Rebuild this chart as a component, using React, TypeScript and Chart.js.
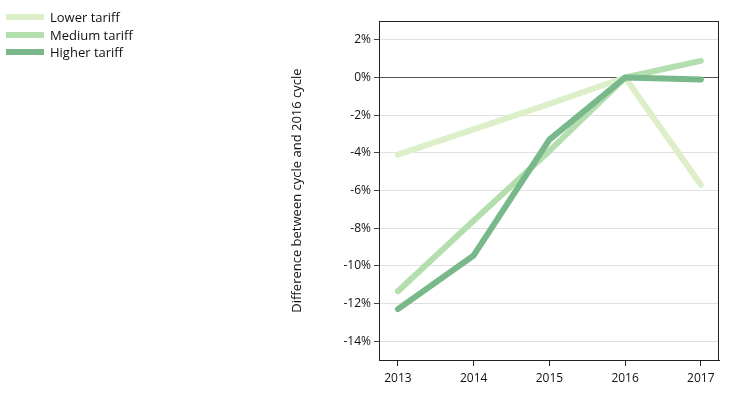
import React, { useEffect, useRef } from "react";
import { Chart, registerables } from "chart.js";

Chart.register(...registerables);

const years = [2013, 2014, 2015, 2016, 2017];
const lowerTariff = [-4.1, -2.75, -1.4, 0, -5.7];
const mediumTariff = [-11.35, -7.6, -3.9, 0, 0.88];
const higherTariff = [-12.3, -9.45, -3.3, 0, -0.1];
const yTicks = [-14, -12, -10, -8, -6, -4, -2, 0, 2];
const seriesNames = ["Lower tariff", "Medium tariff", "Higher tariff"];
const seriesColors = ["#dcefc9", "#b3dead", "#79b88a"];

const FONT = "'Open Sans', 'Liberation Sans', sans-serif";

const boxPlugin = {
  id: "boxBorder",
  afterDraw(chart: any) {
    const { ctx, chartArea } = chart;
    ctx.save();
    ctx.strokeStyle = "#222";
    ctx.lineWidth = 1;
    ctx.strokeRect(
      Math.round(chartArea.left) + 0.5,
      Math.round(chartArea.top) + 0.5,
      Math.round(chartArea.right - chartArea.left) - 1,
      Math.round(chartArea.bottom - chartArea.top)
    );
    ctx.restore();
  },
};

const legendPlugin = {
  id: "customLegend",
  afterDraw(chart: any) {
    const { ctx } = chart;
    ctx.save();
    const ys = [17, 35, 52];
    seriesNames.forEach((name, i) => {
      ctx.strokeStyle = seriesColors[i];
      ctx.lineWidth = 6;
      ctx.lineCap = "butt";
      ctx.beginPath();
      ctx.moveTo(6, ys[i]);
      ctx.lineTo(44, ys[i]);
      ctx.stroke();
      ctx.fillStyle = "#111";
      ctx.font = `13px ${FONT}`;
      ctx.textBaseline = "middle";
      ctx.textAlign = "left";
      ctx.fillText(name, 50, ys[i] + 1);
    });
    ctx.restore();
  },
};

export default function App() {
  const ref = useRef<HTMLCanvasElement | null>(null);

  useEffect(() => {
    if (!ref.current) return;
    const series = [lowerTariff, mediumTariff, higherTariff];
    const chart = new Chart(ref.current, {
      type: "line",
      data: {
        datasets: series.map((vals, i) => ({
          label: seriesNames[i],
          data: years.map((y, j) => ({ x: y, y: vals[j] })),
          borderColor: seriesColors[i],
          backgroundColor: seriesColors[i],
          borderWidth: 6,
          borderCapStyle: "round",
          borderJoinStyle: "round",
          pointRadius: 0,
          tension: 0,
          fill: false,
          order: 3 - i,
        })),
      },
      options: {
        responsive: false,
        animation: false,
        layout: { padding: { left: 280, right: 13, top: 21, bottom: 0 } },
        plugins: {
          legend: { display: false },
          tooltip: { enabled: false },
        },
        scales: {
          x: {
            type: "linear",
            min: 2012.75,
            max: 2017.24,
            afterBuildTicks: (scale: any) => {
              scale.ticks = years.map((v) => ({ value: v }));
            },
            afterFit: (scale: any) => {
              scale.height = 36;
            },
            grid: {
              drawOnChartArea: false,
              drawTicks: true,
              tickLength: 6,
              tickColor: "#222",
            },
            border: { color: "#222" },
            ticks: {
              padding: 5,
              color: "#111",
              font: { family: FONT, size: 12 },
              callback: (v: any) => String(v),
            },
          },
          y: {
            type: "linear",
            min: -15,
            max: 3,
            afterBuildTicks: (scale: any) => {
              scale.ticks = yTicks.map((v) => ({ value: v }));
            },
            afterFit: (scale: any) => {
              scale.width = 99;
            },
            grid: {
              color: (c: any) => (c.tick && c.tick.value === 0 ? "#555" : "#e0e0e0"),
              lineWidth: 1,
              tickLength: 5,
              tickColor: "#444",
            },
            border: { color: "#444" },
            ticks: {
              padding: 3,
              color: "#111",
              font: { family: FONT, size: 12 },
              callback: (v: any) => `${v}%`,
            },
            title: {
              display: true,
              text: "Difference between cycle and 2016 cycle",
              color: "#111",
              font: { family: FONT, size: 13 },
              padding: { top: 9, bottom: 0 },
            },
          },
        },
      },
      plugins: [boxPlugin, legendPlugin],
    } as any);
    return () => chart.destroy();
  }, []);

  return (
    <div style={{ position: "fixed", left: 0, top: 0, width: 732, height: 396, background: "#fff" }}>
      <canvas ref={ref} width={732} height={396} style={{ display: "block" }} />
    </div>
  );
}
